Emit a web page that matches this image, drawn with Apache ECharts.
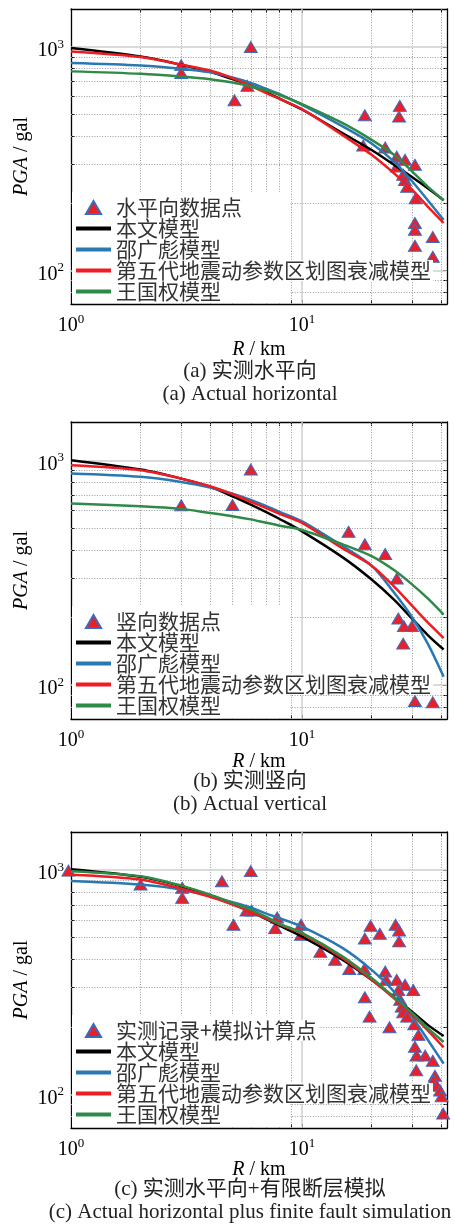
<!DOCTYPE html>
<html>
<head>
<meta charset="utf-8">
<script src="https://cdn.jsdelivr.net/npm/echarts@6/dist/echarts.min.js"></script>
<style>
html,body{margin:0;padding:0;background:#fff;}
#main{width:455px;height:1226px;}
</style>
</head>
<body>
<div id="main"></div>
<script type="text/javascript">
var curveR = [1, 2, 3, 4, 5, 6, 7, 8, 10, 15, 20, 25, 30, 35, 41];

// (a) 实测水平向
var aBenwen = [990, 907, 833, 775, 718, 671, 626, 587, 525, 411, 346, 297, 261, 233, 206];
var aShao   = [848, 827, 800, 770, 730, 690, 649, 615, 551, 441, 370, 307, 250, 206, 168];
var aWudai  = [955, 902, 833, 785, 726, 671, 622, 586, 527, 403, 329, 272, 229, 193, 163];
var aWang   = [778, 759, 738, 718, 693, 666, 640, 610, 555, 456, 384, 329, 277, 237, 206];
var aPtsR = [3.0, 3.0, 5.1, 5.8, 6.0, 18.4, 18.7, 22.9, 25.7, 25.7, 26.3, 26.5, 27.4, 27.9, 27.9, 28.5, 30.8, 31.0, 30.8, 30.8, 30.8, 36.8, 36.8];
var aPtsV = [830, 765, 578, 670, 1000, 362, 495, 355, 323, 292, 488, 545, 268, 313, 254, 237, 297, 210, 163, 152, 129, 141, 115];

// (b) 实测竖向
var bBenwen = [1000, 909, 829, 762, 692, 635, 588, 548, 483, 370, 295, 240, 197, 167, 144];
var bShao   = [873, 844, 801, 757, 711, 667, 625, 590, 535, 415, 340, 258, 200, 153, 109];
var bWudai  = [950, 903, 829, 767, 706, 654, 613, 578, 527, 405, 340, 275, 225, 190, 162];
var bWang   = [643, 625, 608, 583, 564, 546, 527, 512, 490, 423, 375, 325, 280, 243, 206];
var bPtsR = [3.0, 5.0, 6.0, 15.9, 18.7, 22.9, 25.7, 26.1, 27.6, 29.9, 27.4, 30.8, 36.8];
var bPtsV = [631, 633, 910, 481, 423, 383, 298, 198, 183, 183, 153, 85, 84];

// (c) 实测水平向+有限断层模拟
var cBenwen = [1010, 934, 848, 771, 710, 655, 605, 565, 505, 398, 324, 271, 233, 204, 182];
var cShao   = [895, 863, 820, 765, 719, 680, 640, 610, 560, 449, 359, 287, 222, 175, 137];
var cWudai  = [955, 909, 826, 760, 702, 651, 608, 571, 520, 405, 324, 268, 226, 193, 162];
var cWang   = [990, 940, 853, 778, 714, 667, 618, 576, 525, 412, 330, 271, 230, 197, 171];
var cPtsR = [0.975, 2.0, 3.03, 3.03, 4.5, 6.0, 5.05, 5.75, 6.05, 7.65, 7.8, 9.9, 9.9, 12.0, 13.9, 16.0, 18.6, 18.7, 19.8, 21.7,
             25.4, 26.3, 26.3, 22.9, 23.1, 25.7, 27.9, 30.3, 26.1, 18.7, 19.6, 23.9, 26.6, 27.0, 27.4, 28.5, 30.6, 31.9, 30.8, 31.3,
             34.1, 36.8, 31.2, 37.6, 37.0, 38.3, 39.6, 40.2, 40.8];
var cPtsV = [995, 863, 834, 752, 893, 990, 571, 660, 660, 552, 615, 571, 515, 432, 398, 362, 362, 495, 565, 520,
             571, 538, 481, 353, 324, 324, 308, 292, 292, 271, 222, 199, 264, 246, 232, 222, 205, 184, 163, 149,
             149, 141, 128, 121, 115, 109, 104, 98, 82];

var modelNames = ['本文模型', '邵广彪模型', '第五代地震动参数区划图衰减模型', '王国权模型'];
var pointNames = ['水平向数据点', '竖向数据点', '实测记录+模拟计算点'];
var captions = ['(a) 实测水平向\n(a) Actual horizontal', '(b) 实测竖向\n(b) Actual vertical',
                '(c) 实测水平向+有限断层模拟\n(c) Actual horizontal plus finite fault simulation'];

var xMajor = [1, 10];
var xMinor = [2, 3, 4, 5, 6, 7, 8, 9, 20, 30, 40];
var yMajor = [100, 1000];
var yMinor = [80, 90, 200, 300, 400, 500, 600, 700, 800, 900];

var curves = [[aBenwen, aShao, aWudai, aWang], [bBenwen, bShao, bWudai, bWang], [cBenwen, cShao, cWudai, cWang]];
var points = [[aPtsR, aPtsV], [bPtsR, bPtsV], [cPtsR, cPtsV]];
var modelColors = ['#000000', '#2a78b2', '#ee1d23', '#2f8a48'];

var panelTop = [9, 422, 832];
var panelH = [295, 297, 296];
var legendTop = [197, 611, 1020];
var captionTop = [360, 770, 1178];
var xNameGap = [36, 33, 32];

var serif = "'Liberation Serif', 'Times New Roman', serif";
var cjk = "'Liberation Serif', 'Noto Sans CJK SC', serif";

function pairs(xs, ys) {
	return xs.map(function (x, i) { return [x, ys[i]]; });
}
function supLabel(v) {
	return '{b|10}{s|' + Math.round(Math.log10(v)) + '}';
}
var supRich = {
	b: {fontFamily: serif, fontSize: 20, lineHeight: 26, color: '#000'},
	s: {fontFamily: serif, fontSize: 13, verticalAlign: 'top', color: '#000'}
};
var minorStyle = {type: [1, 1.6], color: '#9a9a9a', width: 1};
var majorStyle = {type: 'solid', color: '#cfcfcf', width: 1.5};

function gridMarks() {
	var d = [];
	xMinor.forEach(function (v) { d.push({xAxis: v, lineStyle: minorStyle}); });
	yMinor.forEach(function (v) { d.push({yAxis: v, lineStyle: minorStyle}); });
	d.push({xAxis: 10, lineStyle: majorStyle});
	yMajor.forEach(function (v) { d.push({yAxis: v, lineStyle: majorStyle}); });
	return d;
}

var option = {
	animation: false,
	backgroundColor: '#fff',
	grid: [], xAxis: [], yAxis: [], legend: [], title: [], series: [], graphic: []
};

for (var p = 0; p < 3; p++) {
	option.grid.push({left: 71, top: panelTop[p], width: 376, height: panelH[p], outerBoundsMode: 'none'});
	var axLine = {show: true, onZero: false, lineStyle: {color: '#000', width: 1.3}};
	var ticks = {show: true, inside: true, length: 4, lineStyle: {color: '#000', width: 1}};
	// bottom / left axes carry labels; top / right ones close the box
	option.xAxis.push({
		type: 'log', gridIndex: p, min: 1, max: 42.4, position: 'bottom',
		axisLine: axLine, splitLine: {show: false},
		axisTick: Object.assign({customValues: xMajor.concat(xMinor)}, ticks),
		axisLabel: {customValues: xMajor, formatter: supLabel, rich: supRich, margin: 9, hideOverlap: false},
		name: '{i|R} / km', nameLocation: 'middle', nameGap: xNameGap[p], nameMoveOverlap: false,
		nameTextStyle: {fontFamily: serif, fontSize: 20, color: '#000',
			rich: {i: {fontFamily: serif, fontSize: 20, fontStyle: 'italic', color: '#000'}}}
	});
	option.xAxis.push({
		type: 'log', gridIndex: p, min: 1, max: 42.4, position: 'top',
		axisLine: axLine, splitLine: {show: false},
		axisTick: Object.assign({customValues: xMajor.concat(xMinor)}, ticks),
		axisLabel: {show: false}
	});
	option.yAxis.push({
		type: 'log', gridIndex: p, min: 70.7, max: 1480, position: 'left',
		axisLine: axLine, splitLine: {show: false},
		axisTick: Object.assign({customValues: yMajor.concat(yMinor)}, ticks),
		axisLabel: {customValues: yMajor, formatter: supLabel, rich: supRich, margin: 7, padding: [8, 0, 0, 0], hideOverlap: false},
		name: '{i|PGA} / gal', nameLocation: 'middle', nameGap: 39, nameMoveOverlap: false,
		nameTextStyle: {fontFamily: serif, fontSize: 20, color: '#000',
			rich: {i: {fontFamily: serif, fontSize: 20, fontStyle: 'italic', color: '#000'}}}
	});
	option.yAxis.push({
		type: 'log', gridIndex: p, min: 70.7, max: 1480, position: 'right',
		axisLine: axLine, splitLine: {show: false},
		axisTick: Object.assign({customValues: yMajor.concat(yMinor)}, ticks),
		axisLabel: {show: false}
	});

	option.series.push({
		name: pointNames[p], type: 'scatter', xAxisIndex: p * 2, yAxisIndex: p * 2,
		symbol: 'triangle', symbolSize: [13, 11], clip: false, z: 2,
		itemStyle: {color: '#e8202a', borderColor: '#3b6cc0', borderWidth: 1, opacity: 1},
		data: pairs(points[p][0], points[p][1]),
		markLine: {silent: true, z: 1, symbol: ['none', 'none'], label: {show: false},
			emphasis: {disabled: true}, animation: false, data: gridMarks()}
	});
	for (var k = 0; k < 4; k++) {
		option.series.push({
			name: modelNames[k], type: 'line', xAxisIndex: p * 2, yAxisIndex: p * 2,
			smooth: 0.3, symbol: 'none', z: 3,
			lineStyle: {color: modelColors[k], width: 2.5},
			itemStyle: {color: modelColors[k]},
			data: pairs(curveR, curves[p][k])
		});
	}

	// white legend box, like the matlab one, hides the grid behind the legend
	option.graphic.push({
		type: 'rect', silent: true, z: 2, left: 72, top: legendTop[p] - 5,
		shape: {width: 218, height: panelTop[p] + panelH[p] - legendTop[p] + 4},
		style: {fill: '#fff'}
	});

	var legendData = [{name: pointNames[p], icon: 'path://M7,0 L14,12 L0,12 Z'}];
	modelNames.forEach(function (n) {
		legendData.push({name: n, icon: 'path://M0,0 L35,0 L35,4 L0,4 Z'});
	});
	option.legend.push({
		orient: 'vertical', left: 76, top: legendTop[p], padding: 0, itemGap: 0,
		itemWidth: 35, itemHeight: 13, selectedMode: false, data: legendData,
		textStyle: {fontFamily: "'Noto Sans CJK SC'", fontSize: 21, lineHeight: 21, color: '#333',
			backgroundColor: '#fff', padding: [0, 2, 0, 0]}
	});

	option.title.push({
		text: captions[p], left: 250, top: captionTop[p], textAlign: 'center', padding: 0,
		textStyle: {fontFamily: cjk, fontSize: 21, lineHeight: 23, fontWeight: 'normal', color: '#222'}
	});
}

var chart = echarts.init(document.getElementById('main'));
chart.setOption(option);
window.onresize = function () {
	chart.resize();
};
</script>
</body>
</html>
